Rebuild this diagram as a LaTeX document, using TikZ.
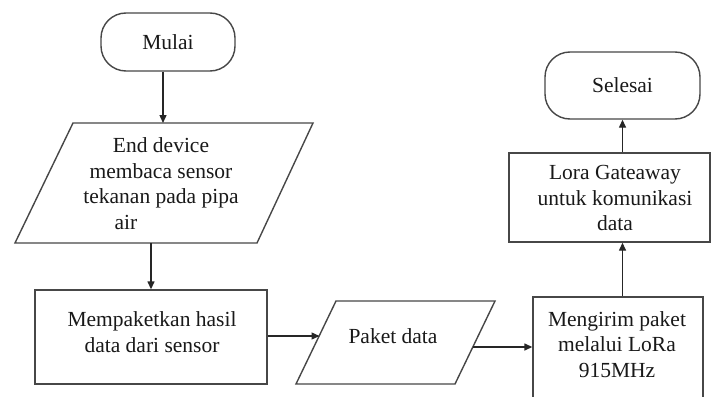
\documentclass[tikz,border=0pt]{standalone}
\usepackage{fontspec}
\setmainfont{Liberation Serif}
\usetikzlibrary{arrows.meta}
\tikzset{
  shapeline/.style={draw=black!72, line width=1.4pt},
  term/.style={shapeline, rectangle, rounded corners=25pt, inner sep=0pt},
  procbox/.style={shapeline, rectangle, inner sep=0pt},
  txt/.style={text=black!90, align=center, inner sep=0pt,
    font=\fontsize{21.5}{25.7}\selectfont},
  conn/.style={draw=black!85, line width=1.4pt, -{Triangle[length=8pt,width=7pt]}},
}
\begin{document}
\begin{tikzpicture}[x=1pt,y=-1pt]
\useasboundingbox (0,0) rectangle (711,396);
\clip (0,0) rectangle (711,396);
\fill[white] (0,0) rectangle (711,396);

% start
\node[term, minimum width=134pt, minimum height=58pt, txt] (mulai) at (168,42) {Mulai};

% input parallelogram 1
\coordinate (p1a) at (15,243);
\coordinate (p1b) at (257,243);
\coordinate (p1c) at (313,123);
\coordinate (p1d) at (73,123);
\draw[shapeline] (p1a) -- (p1b) -- (p1c) -- (p1d) -- cycle;
\node[txt] (t1) at (161,183.5) {End device\\membaca sensor\\tekanan pada pipa\\air\hspace*{70pt}};
\coordinate (p1in) at (163,123);
\coordinate (p1out) at (151,243);

% process 1
\node[procbox, minimum width=232pt, minimum height=94pt] (proc1) at (151,337) {};
\node[txt] (t2) at (152,332) {Mempaketkan hasil\\data dari sensor};

% parallelogram 2
\coordinate (p2a) at (296,384);
\coordinate (p2b) at (455,384);
\coordinate (p2c) at (495,301);
\coordinate (p2d) at (336,301);
\draw[shapeline] (p2a) -- (p2b) -- (p2c) -- (p2d) -- cycle;
\node[txt] (t3) at (393,336) {Paket data};
\coordinate (p2in) at (319.5,336);
\coordinate (p2out) at (473,347);

% send
\node[procbox, minimum width=170pt, minimum height=106pt] (send) at (618,350) {};
\node[txt] (t4) at (617,344.5) {Mengirim paket\\melalui LoRa\\915MHz};

% gateway
\node[procbox, minimum width=201pt, minimum height=89pt] (gw) at (609.5,197.5) {};
\node[txt] (t5) at (615,198) {Lora Gateaway\\untuk komunikasi\\data};

% end
\node[term, minimum width=155pt, minimum height=67pt, txt] (selesai) at (622.5,85.5) {Selesai};

% connectors
\draw[conn] (mulai.south -| p1in) -- (p1in);
\draw[conn] (p1out) -- (proc1.north -| p1out);
\draw[conn] (proc1.east |- p2in) -- (p2in);
\draw[conn] (p2out) -- (send.west |- p2out);
\draw[conn] (send.north -| selesai.south) -- (gw.south -| selesai.south);
\draw[conn] (gw.north -| selesai.south) -- (selesai.south);
\end{tikzpicture}
\end{document}
